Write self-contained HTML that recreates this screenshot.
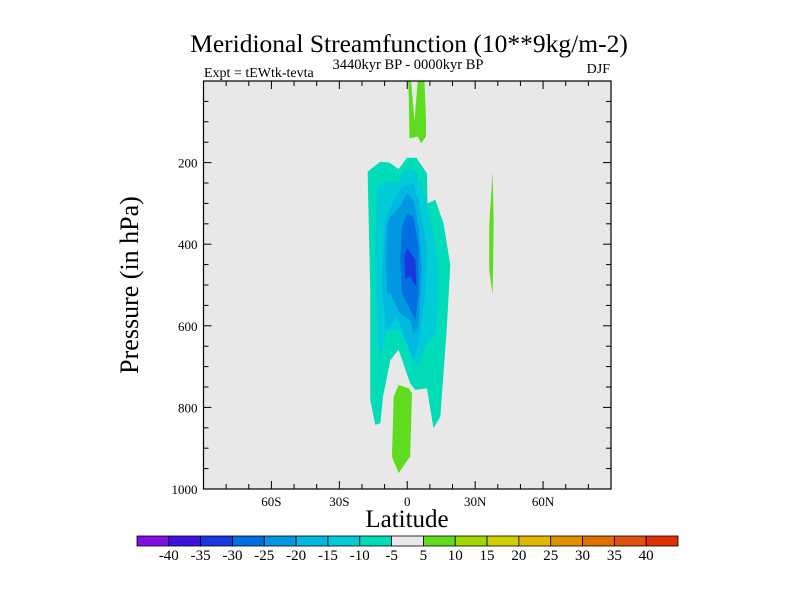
<!DOCTYPE html>
<html><head><meta charset="utf-8"><style>
body{margin:0;background:#fff}
svg text{font-family:"Liberation Serif",serif;fill:#000}
</style></head><body>
<svg width="800" height="600" viewBox="0 0 800 600" xmlns="http://www.w3.org/2000/svg">
<text x="409" y="52" font-size="25.5" text-anchor="middle">Meridional Streamfunction (10**9kg/m-2)</text>
<text x="204" y="77" font-size="14">Expt = tEWtk-tevta</text>
<text x="408" y="69" font-size="14.5" text-anchor="middle">3440kyr BP - 0000kyr BP</text>
<text x="610" y="73" font-size="14" text-anchor="end">DJF</text>
<rect x="203.5" y="81" width="407.5" height="408" fill="#e8e8e8"/>
<g id="contours"></g>
<g id="axes"></g>
<text x="407" y="527" font-size="25" text-anchor="middle">Latitude</text>
<text transform="translate(138,285) rotate(-90)" font-size="26" text-anchor="middle">Pressure (in hPa)</text>
<g id="cbar"></g>
</svg>
<script>
const NS="http://www.w3.org/2000/svg";
const levelColors=["#8010e0","#4010e0","#1a38e0","#0070e0","#0098e0","#00b8e0","#00ccd8","#00dcb8","#e8e8e8","#60dc20","#a0d800","#d0d000","#e0b800","#e09000","#e07000","#e05010","#e03000"];
const levelLabels=["-40","-35","-30","-25","-20","-15","-10","-5","5","10","15","20","25","30","35","40"];
const xTicks=[-60,-30,0,30,60];
const xTickLabels=["60S","30S","0","30N","60N"];
const yTicks=[200,400,600,800,1000];
// contour regions: [lat, pressure] pairs
const regionM5=[[-17.5,222],[-11.9,198],[-7.8,200],[-3.8,216],[-0.1,188],[4.0,188],[8.7,226],[9.0,300],[12.4,291],[16.0,349],[19.0,451],[17.5,602],[14.6,823],[11.6,851],[8.7,753],[3.5,757],[1.3,741],[-3.8,659],[-7.5,684],[-10.7,774],[-11.9,839],[-14.1,843],[-16.3,782],[-16.3,520]];
const regionM10=[[-13.4,259],[-8.3,243],[-3.8,251],[-2.3,222],[2.8,218],[5.7,243],[8.7,300],[11.6,373],[13.8,471],[13.1,618],[9.5,635],[4.3,700],[1.3,667],[-3.1,610],[-9.0,610],[-11.9,684],[-13.4,602],[-14.1,439]];
const regionM15=[[-9.7,341],[-6.0,292],[-2.3,259],[2.8,251],[5.0,300],[8.7,406],[8.0,520],[5.0,643],[2.8,684],[-0.1,643],[-4.5,578],[-9.0,610],[-11.2,520],[-10.4,406]];
const regionM20=[[-9.0,357],[-7.5,333],[-3.1,308],[-0.1,275],[2.8,292],[5.0,357],[6.5,455],[5.0,602],[2.8,618],[1.3,586],[-3.1,570],[-7.5,520],[-9.0,520],[-9.3,439]];
const regionM25=[[-2.3,357],[-0.1,325],[2.8,333],[5.0,406],[5.0,520],[3.6,586],[1.3,561],[-2.3,520],[-3.1,439]];
const regionM30=[[-1.3,431],[-0.1,410],[3.6,439],[4.0,504],[1.3,480],[-0.9,484]];
const regionP5top=[[0.4,0],[1.7,0],[3.2,99],[4.6,0],[7.6,0],[8.3,96],[8.3,136],[6.1,153],[4.6,136],[1.0,141],[0.7,47]];
const regionP5right=[[37.7,222],[38.2,349],[37.7,524],[36.2,463],[36.2,357]];
const regionP5bottom=[[-3.8,745],[0.6,753],[2.1,765],[1.3,920],[-3.8,961],[-6.8,920],[-6.0,774]];
const x0=203.5,x1=611,y0=81,y1=489;
const X=lat=>x0+(lat+90)/180*(x1-x0);
const Y=p=>y0+p/1000*(y1-y0);
const cg=document.getElementById('contours');
function poly(pts,color,name){
  const el=document.createElementNS(NS,'polygon');
  el.setAttribute('points',pts.map(d=>X(d[0]).toFixed(1)+','+Y(d[1]).toFixed(1)).join(' '));
  el.setAttribute('fill',color);
  
  
  cg.appendChild(el);
}
poly(regionM5,levelColors[7],'contour-minus5');
poly(regionM10,levelColors[6],'contour-minus10');
poly(regionM15,levelColors[5],'contour-minus15');
poly(regionM20,levelColors[4],'contour-minus20');
poly(regionM25,levelColors[3],'contour-minus25');
poly(regionM30,levelColors[2],'contour-minus30');
poly(regionP5top,levelColors[9],'contour-plus5-top');
poly(regionP5right,levelColors[9],'contour-plus5-right');
poly(regionP5bottom,levelColors[9],'contour-plus5-bottom');
const ag=document.getElementById('axes');
function line(a,b,c,d,name){
  const l=document.createElementNS(NS,'line');
  l.setAttribute('x1',a);l.setAttribute('y1',b);l.setAttribute('x2',c);l.setAttribute('y2',d);
  l.setAttribute('stroke','#000');l.setAttribute('stroke-width','1');
  
  
  ag.appendChild(l);
}
function txt(x,y,s,anchor,name,g,fs){
  const t=document.createElementNS(NS,'text');
  t.setAttribute('x',x);t.setAttribute('y',y);t.setAttribute('font-size',fs||'13');
  t.setAttribute('text-anchor',anchor);t.textContent=s;
  
  
  g.appendChild(t);
}
for(let lat=-80;lat<=80;lat+=10){
  const major=lat%30===0, len=major?8:5, x=X(lat);
  line(x,y1,x,y1-len,'x-tick-bottom');
  line(x,y0,x,y0+len,'x-tick-top');
}
for(let p=50;p<1000;p+=50){
  const major=p%200===0, len=major?8:5, y=Y(p);
  line(x0,y,x0+len,y,'y-tick-left');
  line(x1,y,x1-len,y,'y-tick-right');
}
xTicks.forEach((v,i)=>txt(X(v),y1+17,xTickLabels[i],'middle','x-tick-label',ag));
yTicks.forEach(v=>txt(x0-6,Y(v)+5,String(v),'end','y-tick-label',ag));
const fr=document.createElementNS(NS,'rect');
fr.setAttribute('x',x0);fr.setAttribute('y',y0);fr.setAttribute('width',x1-x0);fr.setAttribute('height',y1-y0);
fr.setAttribute('fill','none');fr.setAttribute('stroke','#000');fr.setAttribute('stroke-width','1.2');


ag.appendChild(fr);
const cb=document.getElementById('cbar');
const cx0=137,cx1=678,cw=(cx1-cx0)/levelColors.length;
levelColors.forEach((c,i)=>{
  const r=document.createElementNS(NS,'rect');
  r.setAttribute('x',cx0+i*cw);r.setAttribute('y',536);r.setAttribute('width',cw);r.setAttribute('height',10);
  r.setAttribute('fill',c);r.setAttribute('stroke','#000');r.setAttribute('stroke-width','0.8');
  
  
  cb.appendChild(r);
});
levelLabels.forEach((s,i)=>txt(cx0+(i+1)*cw,560,s,'middle','colorbar-label',cb,'15'));
</script>
</body></html>
